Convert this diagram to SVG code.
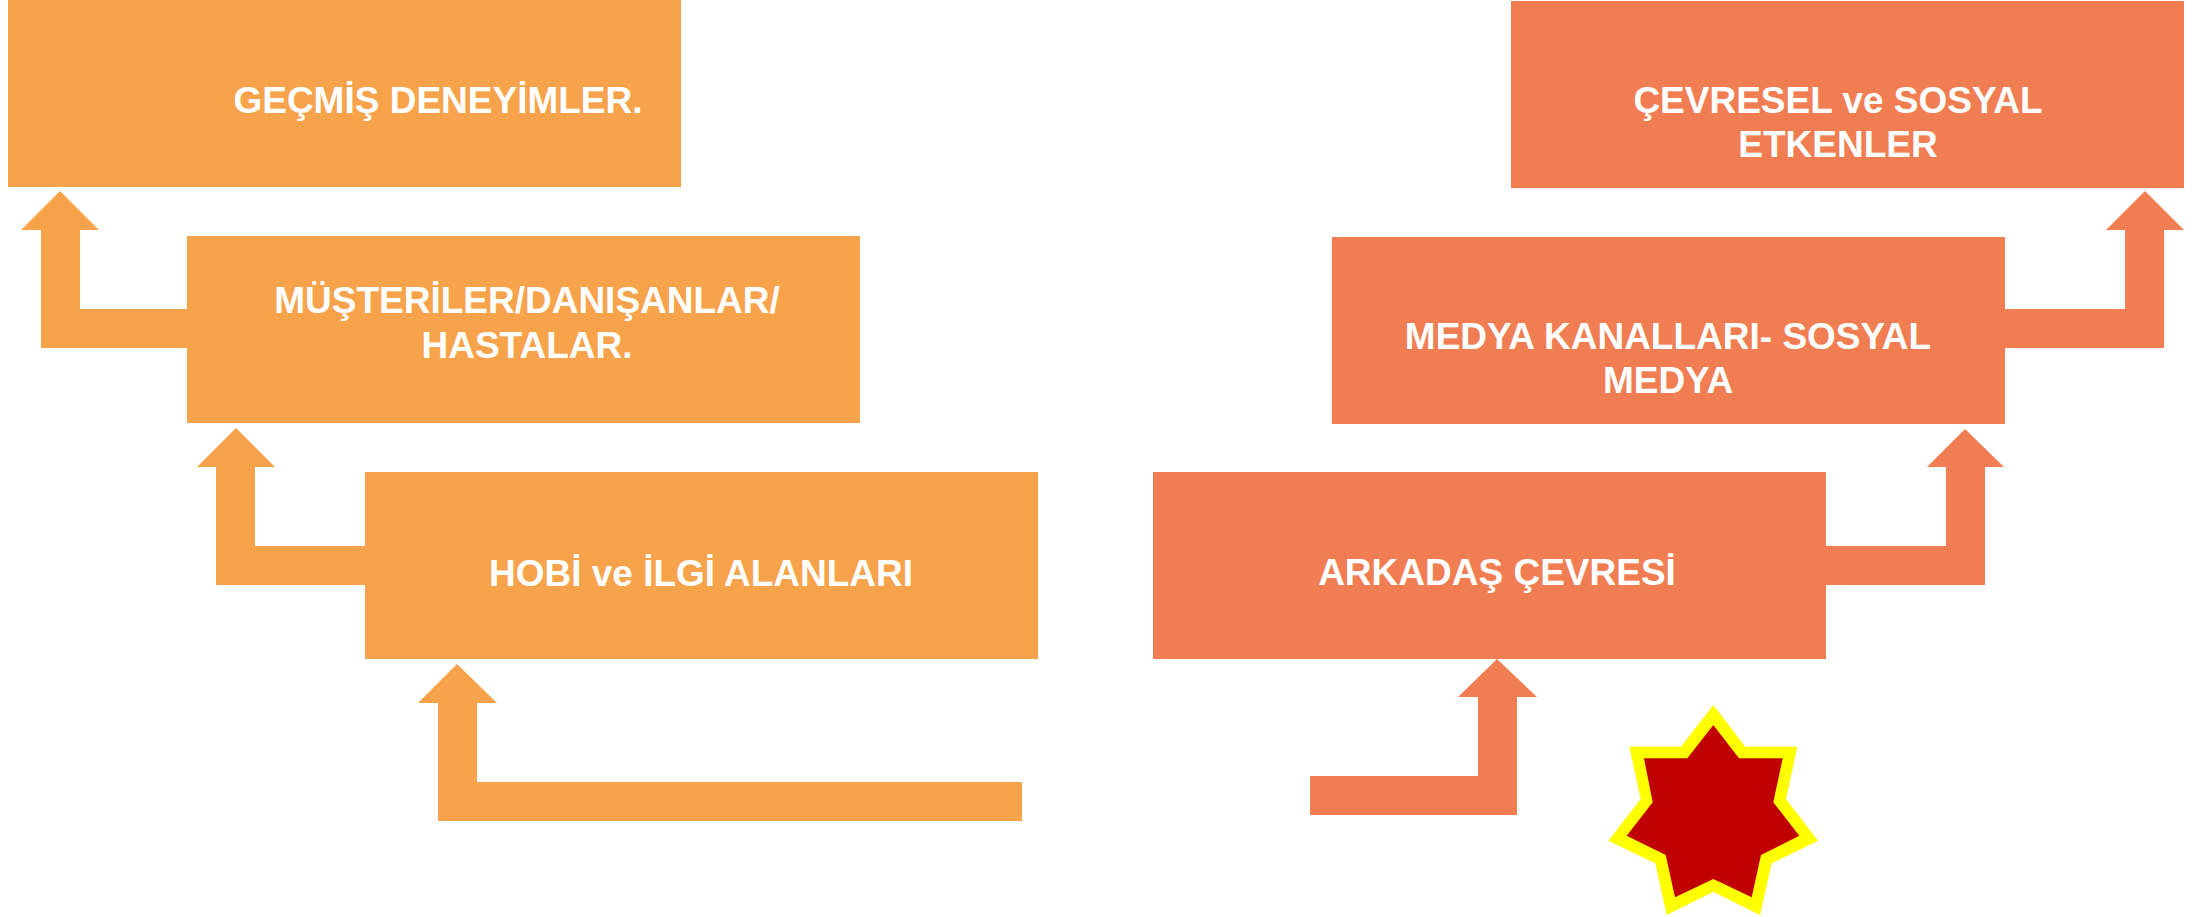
<svg xmlns="http://www.w3.org/2000/svg" width="2195" height="917" viewBox="0 0 2195 917">
  <style>
    .warm { fill: #F7A34B; }
    .coral { fill: #F07E52; }
    .label { font-family: "Liberation Sans", Arial, sans-serif; font-weight: bold; font-size: 37px; fill: #FFFFFF; text-anchor: middle; }
  </style>
  <rect width="2195" height="917" fill="#FFFFFF"/>

  <!-- bent block arrows linking the steps -->
  <g id="connectors">
    <polygon class="warm" points="60,191 99,230 80,230 80,309 187,309 187,348 41,348 41,230 21,230"/>
    <polygon class="warm" points="236,428 275,467 255,467 255,546 365,546 365,585 216,585 216,467 197,467"/>
    <polygon class="warm" points="457,664 497,703 477,703 477,782 1022,782 1022,821 438,821 438,703 418,703"/>
    <polygon class="coral" points="2145,191 2184,230 2164,230 2164,348 2005,348 2005,309 2125,309 2125,230 2106,230"/>
    <polygon class="coral" points="1965,429 2004,467 1985,467 1985,585 1826,585 1826,546 1946,546 1946,467 1927,467"/>
    <polygon class="coral" points="1497,659 1537,697 1517,697 1517,815 1310,815 1310,776 1478,776 1478,697 1458,697"/>
  </g>

  <g id="gecmis-deneyimler">
    <rect class="warm" x="8" y="0" width="673" height="187"/>
    <text class="label" x="438" y="113">GEÇMİŞ DENEYİMLER.</text>
  </g>

  <g id="musteriler">
    <rect class="warm" x="187" y="236" width="673" height="187"/>
    <text class="label" x="527" y="313">MÜŞTERİLER/DANIŞANLAR/</text>
    <text class="label" x="527" y="358">HASTALAR.</text>
  </g>

  <g id="hobi">
    <rect class="warm" x="365" y="472" width="673" height="187"/>
    <text class="label" x="701" y="586">HOBİ ve İLGİ ALANLARI</text>
  </g>

  <g id="cevresel">
    <rect class="coral" x="1511" y="1" width="673" height="187"/>
    <text class="label" x="1838" y="113">ÇEVRESEL ve SOSYAL</text>
    <text class="label" x="1838" y="157">ETKENLER</text>
  </g>

  <g id="medya">
    <rect class="coral" x="1332" y="237" width="673" height="187"/>
    <text class="label" x="1668" y="349">MEDYA KANALLARI- SOSYAL</text>
    <text class="label" x="1668" y="393">MEDYA</text>
  </g>

  <g id="arkadas">
    <rect class="coral" x="1153" y="472" width="673" height="187"/>
    <text class="label" x="1497" y="585">ARKADAŞ ÇEVRESİ</text>
  </g>

  <!-- seven-point star: yellow rim with red core -->
  <g id="star">
    <polygon fill="#FFFF00" points="1713.3,705 1745.3,746.7 1797.3,746.7 1786,799 1818,840.7 1771.7,863.3 1760,915 1713.3,891.7 1666.7,915 1655.3,863.3 1608.3,840.7 1640.7,799 1629.3,746.7 1681,746.7"/>
    <polygon fill="#C00000" points="1713.3,725 1739,758.3 1782.7,758.3 1773.3,802.3 1799.3,835.7 1761,855 1751.7,897.3 1713.3,879 1675,897.3 1665.7,855 1626.7,835.7 1652.7,802.3 1644,758.3 1687.3,758.3"/>
  </g>
</svg>
